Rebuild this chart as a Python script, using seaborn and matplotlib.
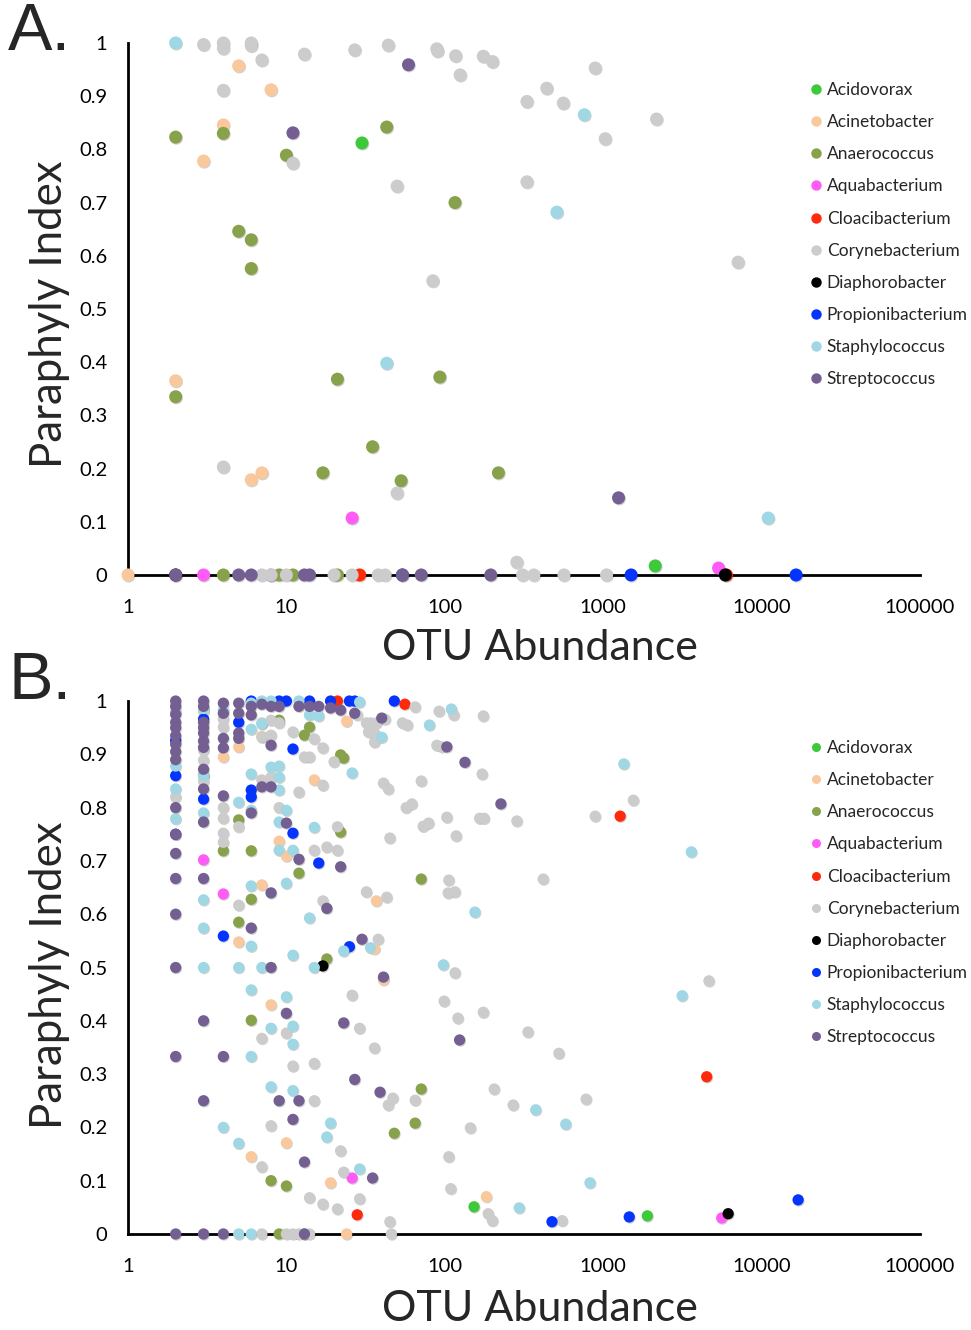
import numpy as np
import pandas as pd
import seaborn as sns
import matplotlib
matplotlib.use('Agg')
import matplotlib.pyplot as plt
import matplotlib.patheffects as pe
from matplotlib.ticker import FixedLocator, NullLocator

genera = ['Acidovorax', 'Acinetobacter', 'Anaerococcus', 'Aquabacterium', 'Cloacibacterium',
          'Corynebacterium', 'Diaphorobacter', 'Propionibacterium', 'Staphylococcus', 'Streptococcus']
genus_colors = ['#3ec93a', '#f9c99d', '#88a24c', '#ff5cf7', '#ff2a0c',
                '#cccccc', '#000000', '#0534ff', '#9fd7e4', '#735f91']

x_ticks = [1, 10, 100, 1000, 10000, 100000]
x_tick_labels = ['1', '10', '100', '1000', '10000', '100000']
y_ticks = [0, 0.1, 0.2, 0.3, 0.4, 0.5, 0.6, 0.7, 0.8, 0.9, 1]
y_tick_labels = ['0', '0.1', '0.2', '0.3', '0.4', '0.5', '0.6', '0.7', '0.8', '0.9', '1']

# ---- panel A: OTU abundance vs paraphyly index ----
a_acidovorax_x = [30, 2130]
a_acidovorax_y = [0.812, 0.017]
a_acinetobacter_x = [5, 8, 4, 3, 2, 6, 7, 1]
a_acinetobacter_y = [0.957, 0.912, 0.846, 0.778, 0.365, 0.179, 0.192, 0]
a_anaerococcus_x = [2, 4, 43, 10, 116, 5, 6, 6, 2, 21, 93, 35, 17, 53, 218, 4, 9, 11, 21]
a_anaerococcus_y = [0.823, 0.83, 0.842, 0.789, 0.70, 0.646, 0.63, 0.576, 0.335, 0.368,
                    0.372, 0.241, 0.192, 0.177, 0.192, 0, 0, 0, 0]
a_aquabacterium_x = [26, 3, 8, 5350]
a_aquabacterium_y = [0.107, 0, 0, 0.013]
a_cloacibacterium_x = [29, 6000]
a_cloacibacterium_y = [0, 0]
a_corynebacterium_x = [3, 4, 4, 6, 6, 7, 13, 27, 44, 89, 90, 117, 125, 175, 200, 890, 440, 330, 560, 2170,
                       1030, 4, 11, 50, 330, 7100, 84, 4, 50, 285, 7, 8, 10, 20, 26, 38, 42, 310, 365, 565, 1050]
a_corynebacterium_y = [0.997, 1.0, 0.99, 1.0, 0.995, 0.968, 0.979, 0.987, 0.996, 0.989,
                       0.985, 0.976, 0.94, 0.975, 0.965, 0.953, 0.915, 0.89, 0.887, 0.857,
                       0.82, 0.911, 0.774, 0.731, 0.739, 0.588, 0.553, 0.203, 0.154, 0.024,
                       0, 0, 0, 0, 0, 0, 0, 0, 0, 0, 0]
a_diaphorobacter_x = [2, 5900]
a_diaphorobacter_y = [0, 0]
a_propionibacterium_x = [54, 1500, 16500]
a_propionibacterium_y = [0, 0, 0]
a_staphylococcus_x = [2, 760, 510, 43, 11000]
a_staphylococcus_y = [1.0, 0.865, 0.682, 0.398, 0.107]
a_streptococcus_x = [59, 11, 1250, 2, 5, 6, 13, 14, 54, 71, 195]
a_streptococcus_y = [0.959, 0.831, 0.145, 0, 0, 0, 0, 0, 0, 0, 0]

# ---- panel B ----
b_acidovorax_x = [153, 1900]
b_acidovorax_y = [0.051, 0.034]
b_acinetobacter_x = [4, 5, 5, 6, 7, 7, 8, 9, 10, 10, 15, 19, 24, 24, 36, 37, 41, 183]
b_acinetobacter_y = [0.895, 0.914, 0.548, 0.145, 0.934, 0.655, 0.43, 0.737, 0.709, 0.171,
                     0.852, 0.096, 0.962, 0, 0.535, 0.625, 0.477, 0.07]
b_anaerococcus_x = [3, 4, 5, 5, 6, 6, 6, 8, 9, 9, 10, 12, 13, 13, 14, 18, 22, 22, 23, 48, 65, 71, 71]
b_anaerococcus_y = [0.861, 0.719, 0.777, 0.585, 0.719, 0.628, 0.401, 0.1, 0.964, 0, 0.09, 0.677,
                    0.936, 0, 0.951, 0.516, 0.899, 0.754, 0.893, 0.189, 0.208, 0.666, 0.272]
b_aquabacterium_x = [3, 4, 26, 5600]
b_aquabacterium_y = [0.702, 0.638, 0.105, 0.03]
b_cloacibacterium_x = [21, 56, 28, 1280, 4500]
b_cloacibacterium_y = [1.0, 0.994, 0.036, 0.784, 0.295]
b_corynebacterium_x = [2, 3, 3, 3, 3, 4, 4, 4, 4, 4, 4, 5, 5,
                       7, 7, 7, 7, 7, 7, 8, 8, 8, 8, 9, 9, 10, 10, 11, 11, 11, 12, 12,
                       13, 14, 14, 14, 15, 15, 15, 15, 17, 17, 17, 17, 18, 20, 21, 21, 21,
                       22, 23, 26, 28, 29, 29, 32, 32, 33, 34, 36, 36, 36, 37, 38, 41, 42, 43,
                       44, 44, 45, 45, 46, 47, 54, 57, 58, 62, 65, 65, 71, 73, 79, 89, 92, 96,
                       99, 103, 105, 106, 106, 109, 114, 116, 116, 118, 121, 145, 166, 172,
                       175, 175, 177, 188, 200, 205, 270, 285, 335, 418, 525, 550, 780, 890,
                       1550, 4650]
b_corynebacterium_y = [0.82, 0.98, 0.908, 0.889, 0.85, 0.966, 0.951, 0.8, 0.78, 0.752, 0.735, 0.764, 0.617,
                       0.959, 0.932, 0.852, 0.367, 0.126, 0, 0.964, 0.936, 0.857, 0.203, 0.959, 0.8,
                       0.377, 0, 0.942, 0.315, 0, 0.829, 0,
                       0.895, 0.895, 0.068, 0, 0.929, 0.72, 0.32, 0.25, 0.912, 0.842, 0.625, 0.056,
                       0.726, 0.886, 0.764, 0.72, 0.047,
                       0.156, 0.116, 0.448, 0.974, 0.386, 0.066, 0.959, 0.642, 0.942, 0.959, 0.94,
                       0.923, 0.349, 0.959, 0.553, 0.846, 0.966, 0.632,
                       0.835, 0.242, 0.743, 0.023, 0, 0.255, 0.959, 0.8, 0.955, 0.807, 0.989, 0.251,
                       0.85, 0.765, 0.771, 0.917, 0.981, 0.914,
                       0.437, 0.782, 0.64, 0.664, 0.145, 0.085, 0.974, 0.642, 0.49, 0.747, 0.405,
                       0.199, 0.78, 0.863,
                       0.972, 0.416, 0.78, 0.038, 0.025, 0.272, 0.242, 0.775, 0.379, 0.666, 0.339,
                       0.025, 0.253, 0.784,
                       0.814, 0.475]
b_diaphorobacter_x = [17, 6150]
b_diaphorobacter_y = [0.503, 0.038]
b_propionibacterium_x = [2, 2, 2, 3, 3, 4, 5, 6, 6, 6, 9, 10, 11, 11, 14, 16, 19, 25, 25, 27, 48,
                         475, 1460, 17000]
b_propionibacterium_y = [0.926, 0.86, 0.75, 0.966, 0.816, 0.559, 0.96, 1.0, 0.833, 0.82, 1.0, 1.0,
                         0.91, 0.752, 1.0, 0.696, 1.0, 1.0, 0.539, 1.0, 1.0, 0.023, 0.032, 0.064]
b_staphylococcus_x = [2, 2, 2, 2, 3, 3, 3, 3, 3, 3, 4, 4, 5, 5, 5, 5,
                      6, 6, 6, 6, 6, 6, 6, 6, 6, 7, 7, 7, 8, 8, 8, 8,
                      9, 9, 9, 9, 9, 10, 10, 10, 11, 11, 11, 11, 11, 12, 14, 14, 15, 15,
                      16, 18, 19, 23, 26, 29, 29, 34, 40, 80, 98, 110, 155, 295, 375, 580,
                      825, 1350, 3150, 3600]
b_staphylococcus_y = [0.98, 0.878, 0.835, 0.779, 0.986, 0.86, 0.79, 0.627, 0.574, 0.5,
                      0.983, 0.2, 0.81, 0.5, 0.17, 0,
                      0.996, 0.947, 0.863, 0.795, 0.653, 0.54, 0.458, 0.333, 0, 1.0, 0.957, 0.5,
                      1.0, 0.876, 0.386, 0.276,
                      0.878, 0.857, 0.833, 0.773, 0.72, 0.795, 0.658, 0.445, 0.72, 0.523, 0.39,
                      0.356, 0.269, 1.0, 0.974, 0.593, 0.763, 0.5,
                      0.972, 0.182, 0.208, 0.531, 0.865, 0.998, 0.122, 0.537, 0.932, 0.955, 0.505,
                      0.985, 0.604, 0.049, 0.233, 0.206,
                      0.096, 0.882, 0.447, 0.717]
b_streptococcus_x = [2, 2, 2, 2, 2, 2, 2, 2, 2, 2, 2, 2, 2, 2, 2, 2, 2,
                     3, 3, 3, 3, 3, 3, 3, 3, 3, 3, 3, 3, 3, 3,
                     4, 4, 4, 4, 4, 4, 4, 5, 5, 5, 5, 6, 6, 6, 6, 7, 7,
                     8, 8, 8, 8, 8, 9, 9, 10, 10, 11, 12, 12, 12, 13, 13,
                     14, 16, 18, 19, 22, 22, 23, 27, 27, 30, 35, 39, 40, 41, 103, 124, 134, 226]
b_streptococcus_y = [1.0, 0.99, 0.975, 0.96, 0.95, 0.935, 0.919, 0.905, 0.89, 0.8, 0.75, 0.714,
                     0.667, 0.6, 0.5, 0.333, 0,
                     1.0, 0.99, 0.96, 0.95, 0.94, 0.925, 0.913, 0.872, 0.835, 0.773, 0.667, 0.4, 0.25, 0,
                     0.996, 0.977, 0.93, 0.912, 0.822, 0.333, 0, 0.996, 0.977, 0.94, 0.93,
                     0.99, 0.974, 0.79, 0.574, 0.994, 0.839,
                     0.99, 0.917, 0.839, 0.64, 0.5, 0.99, 0.25, 0.771, 0.414, 0.215, 0.99, 0.703, 0.25,
                     0.135, 0,
                     0.99, 0.99, 0.611, 0.987, 0.983, 0.689, 0.396, 0.977, 0.29, 0.553, 0.105, 0.266,
                     0.968, 0.482, 0.914, 0.364, 0.885, 0.807]


def make_df(series):
    frames = []
    for genus, xs, ys in series:
        frames.append(pd.DataFrame({'abundance': xs, 'paraphyly': ys, 'genus': genus}))
    return pd.concat(frames, ignore_index=True)


df_a = make_df(zip(genera,
                   [a_acidovorax_x, a_acinetobacter_x, a_anaerococcus_x, a_aquabacterium_x, a_cloacibacterium_x,
                    a_corynebacterium_x, a_diaphorobacter_x, a_propionibacterium_x, a_staphylococcus_x,
                    a_streptococcus_x],
                   [a_acidovorax_y, a_acinetobacter_y, a_anaerococcus_y, a_aquabacterium_y, a_cloacibacterium_y,
                    a_corynebacterium_y, a_diaphorobacter_y, a_propionibacterium_y, a_staphylococcus_y,
                    a_streptococcus_y]))
df_b = make_df(zip(genera,
                   [b_acidovorax_x, b_acinetobacter_x, b_anaerococcus_x, b_aquabacterium_x, b_cloacibacterium_x,
                    b_corynebacterium_x, b_diaphorobacter_x, b_propionibacterium_x, b_staphylococcus_x,
                    b_streptococcus_x],
                   [b_acidovorax_y, b_acinetobacter_y, b_anaerococcus_y, b_aquabacterium_y, b_cloacibacterium_y,
                    b_corynebacterium_y, b_diaphorobacter_y, b_propionibacterium_y, b_staphylococcus_y,
                    b_streptococcus_y]))

sns.set_style('white')
plt.rcParams['font.family'] = ['Lato', 'DejaVu Sans']

fig = plt.figure(figsize=(9.71, 13.3), dpi=100)
ax_a = fig.add_axes([0.1318, 0.5677, 0.8157, 0.4])
ax_b = fig.add_axes([0.1318, 0.0722, 0.8157, 0.4007])

# soft drop shadow like the spreadsheet markers
dot_shadow = [pe.SimplePatchShadow(offset=(0.6, -0.8), shadow_rgbFace='black', alpha=0.18), pe.Normal()]


def draw_panel(ax, df, size, legend_top):
    sns.scatterplot(data=df, x='abundance', y='paraphyly', hue='genus', hue_order=genera,
                    palette=genus_colors, s=size, linewidth=0, alpha=1, ax=ax,
                    clip_on=False, zorder=3, legend=True)
    for coll in ax.collections:
        coll.set_path_effects(dot_shadow)
    ax.set_xscale('log')
    ax.set_xlim(1, 100000)
    ax.set_ylim(0, 1)
    ax.xaxis.set_major_locator(FixedLocator(x_ticks))
    ax.xaxis.set_minor_locator(NullLocator())
    ax.set_xticklabels(x_tick_labels)
    ax.set_yticks(y_ticks)
    ax.set_yticklabels(y_tick_labels)
    for side in ['top', 'right']:
        ax.spines[side].set_visible(False)
    for side in ['left', 'bottom']:
        ax.spines[side].set_linewidth(2)
        ax.spines[side].set_color('black')
    ax.tick_params(direction='out', length=6, width=2, labelsize=14.5, pad=9, colors='black')
    ax.tick_params(axis='x', pad=11)
    ax.set_xlabel('')
    ax.set_ylabel('')

    handles, labels = ax.get_legend_handles_labels()
    ax.legend(handles, labels, loc='upper left', bbox_to_anchor=(811 / 971, 1 - legend_top / 1330),
              bbox_transform=fig.transFigure, frameon=False, fontsize=12.5, markerscale=0.8,
              handlelength=0.6, handletextpad=0.3, labelspacing=0.93, borderpad=0, borderaxespad=0)


draw_panel(ax_a, df_a, 88, 82)
draw_panel(ax_b, df_b, 66, 740)

for y_mid in [314, 975]:
    fig.text(50 / 971, 1 - y_mid / 1330, 'Paraphyly Index', rotation=90, fontsize=31.5,
             ha='center', va='center')
for y_mid in [648, 1309]:
    fig.text(540 / 971, 1 - y_mid / 1330, 'OTU Abundance', fontsize=31, ha='center', va='center')

fig.text(8 / 971, 1 - 33 / 1330, 'A.', fontsize=48, family='Liberation Sans', va='center', ha='left')
fig.text(8 / 971, 1 - 682 / 1330, 'B.', fontsize=48, family='Liberation Sans', va='center', ha='left')

fig.savefig('out.png', dpi=100)
